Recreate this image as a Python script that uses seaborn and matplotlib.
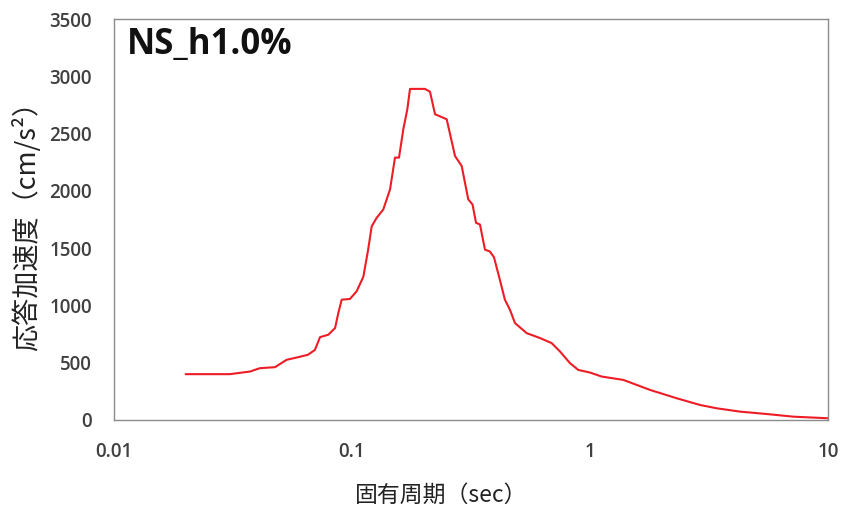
import numpy as np
import pandas as pd
import seaborn as sns
import matplotlib
matplotlib.use("Agg")
import matplotlib.pyplot as plt
from matplotlib.ticker import FixedLocator, NullLocator, FixedFormatter

# Response spectrum values
period = [0.02, 0.0307, 0.0373, 0.041, 0.0475, 0.0531, 0.0593, 0.0653, 0.0699,
          0.0734, 0.0795, 0.0849, 0.0876, 0.0905, 0.098, 0.1046, 0.1116, 0.117,
          0.121, 0.127, 0.1353, 0.1445, 0.1516, 0.1576, 0.1643, 0.1708, 0.1753,
          0.2026, 0.2127, 0.2233, 0.25, 0.271, 0.289, 0.308, 0.321, 0.332, 0.345,
          0.362, 0.380, 0.395, 0.418, 0.439, 0.461, 0.484, 0.542, 0.617, 0.690,
          0.748, 0.824, 0.893, 1.0, 1.12, 1.38, 1.79, 2.31, 2.90, 3.41, 4.27,
          5.53, 7.15, 10.0]
accel = [400, 400, 423, 452, 461, 525, 548, 569, 612,
         723, 744, 802, 933, 1050, 1056, 1123, 1250, 1490,
         1690, 1765, 1837, 2012, 2290, 2290, 2537, 2712, 2890,
         2890, 2865, 2669, 2625, 2304, 2217, 1925, 1881, 1721, 1706,
         1487, 1470, 1420, 1225, 1050, 962, 846, 758, 715, 671,
         598, 496, 437, 414, 379, 350, 262, 190, 131, 102, 73,
         52, 29, 15]

x_ticks = [0.01, 0.1, 1, 10]
x_tick_labels = ["0.01", "0.1", "1", "10"]
y_ticks = [0, 500, 1000, 1500, 2000, 2500, 3000, 3500]

df = pd.DataFrame({"period": period, "accel": accel})

sns.set_style("white")
plt.rcParams["font.family"] = ["Noto Sans CJK JP", "DejaVu Sans"]

fig = plt.figure(figsize=(8.43, 5.15), dpi=100)
ax = fig.add_axes([0.1352, 0.1845, 0.847, 0.7786])

sns.lineplot(data=df, x="period", y="accel", color="#ee1c25", linewidth=1.5, ax=ax)

ax.set_xscale("log")
ax.set_xlim(0.01, 10)
ax.set_ylim(0, 3500)
ax.xaxis.set_major_locator(FixedLocator(x_ticks))
ax.xaxis.set_major_formatter(FixedFormatter(x_tick_labels))
ax.xaxis.set_minor_locator(NullLocator())
ax.set_yticks(y_ticks)

for s in ax.spines.values():
    s.set_color("#8c8c8c")
    s.set_linewidth(1.0)

ax.tick_params(axis="both", which="major", direction="out", length=6,
               color="#8c8c8c", labelcolor="#404040", labelsize=13.5)
ax.tick_params(axis="x", pad=10)
ax.tick_params(axis="y", pad=10)
for lbl in ax.get_xticklabels() + ax.get_yticklabels():
    lbl.set_family(["Open Sans", "DejaVu Sans"])
    lbl.set_fontweight("semibold")

ax.set_xlabel("固有周期（sec）", fontsize=16.5, color="#222222")
ax.xaxis.set_label_coords(0.458, -0.158)
ax.set_ylabel("応答加速度（cm/s²）", fontsize=19.5, color="#222222")
ax.yaxis.set_label_coords(-0.102, 0.5)

ax.text(0.018, 0.935, "NS_h1.0%", transform=ax.transAxes, fontsize=25,
        fontweight="bold", family=["Open Sans", "DejaVu Sans"],
        color="#111111", va="center", ha="left")

plt.savefig("out.png", dpi=100)
